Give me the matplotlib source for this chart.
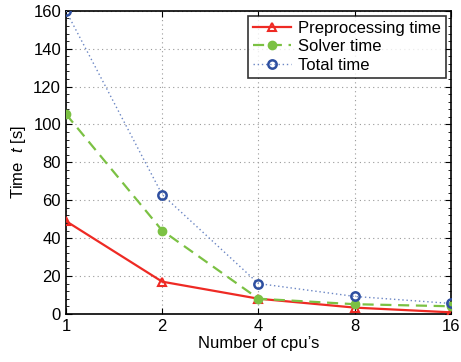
import matplotlib
matplotlib.use("Agg")
import matplotlib.pyplot as plt
from matplotlib.ticker import FixedLocator, NullFormatter, AutoMinorLocator

plt.rcParams['font.family'] = ['Liberation Sans', 'DejaVu Sans']
plt.rcParams['mathtext.fontset'] = 'custom'
plt.rcParams['mathtext.it'] = 'Liberation Sans:italic'
plt.rcParams['mathtext.rm'] = 'Liberation Sans'

cpus = [1, 2, 4, 8, 16]
pre_time = [49, 17, 8, 3.3, 0.8]
solver_time = [105.5, 44, 8, 5.1, 4]
total_time = [160, 63, 16, 9.2, 5.5]
xtick_labels = ['1', '2', '4', '8', '16']

fig = plt.figure(figsize=(4.61, 3.62), dpi=100)
ax = fig.add_axes([0.143, 0.133, 0.835, 0.837])

ax.plot(cpus, pre_time, color='#ee2a24', lw=1.6, marker='^', ms=6,
        mfc='none', mec='#ee2a24', mew=1.5, label='Preprocessing time', zorder=3)
ax.plot(cpus, solver_time, color='#7bc143', lw=1.6, ls=(0, (5, 3)), marker='o', ms=6,
        mfc='#7bc143', mec='#7bc143', label='Solver time', zorder=3)
ax.plot(cpus, total_time, color='#6b86c4', lw=1.0, ls=(0, (1, 2)), marker='o', ms=6,
        mfc='none', mec='#2e4fa0', mew=1.8, label='Total time', zorder=3)

ax.set_xscale('log', base=2)
ax.set_xlim(1, 16)
ax.set_ylim(0, 160)
ax.xaxis.set_major_locator(FixedLocator(cpus))
ax.set_xticklabels(xtick_labels)
ax.xaxis.set_minor_locator(FixedLocator([]))
ax.xaxis.set_minor_formatter(NullFormatter())
ax.set_yticks(range(0, 161, 20))
ax.yaxis.set_minor_locator(AutoMinorLocator(5))

ax.tick_params(which='both', direction='in', top=True, right=True, labelsize=12)
ax.tick_params(which='major', length=4)
ax.tick_params(which='minor', length=2)
ax.grid(True, which='major', ls=(0, (1, 3)), color='#999999', lw=0.8)
for s in ax.spines.values():
    s.set_linewidth(1.2)

ax.set_xlabel('Number of cpu\u2019s', fontsize=12, labelpad=2)
ax.set_ylabel('Time  $t$ [s]', fontsize=12, labelpad=4)

leg = ax.legend(loc='upper right', fontsize=12, frameon=True, fancybox=False,
                edgecolor='black', handlelength=2.3, handletextpad=0.4,
                borderpad=0.3, labelspacing=0.2, borderaxespad=0.3)
leg.get_frame().set_linewidth(1.2)

fig.savefig('out.png', dpi=100)
